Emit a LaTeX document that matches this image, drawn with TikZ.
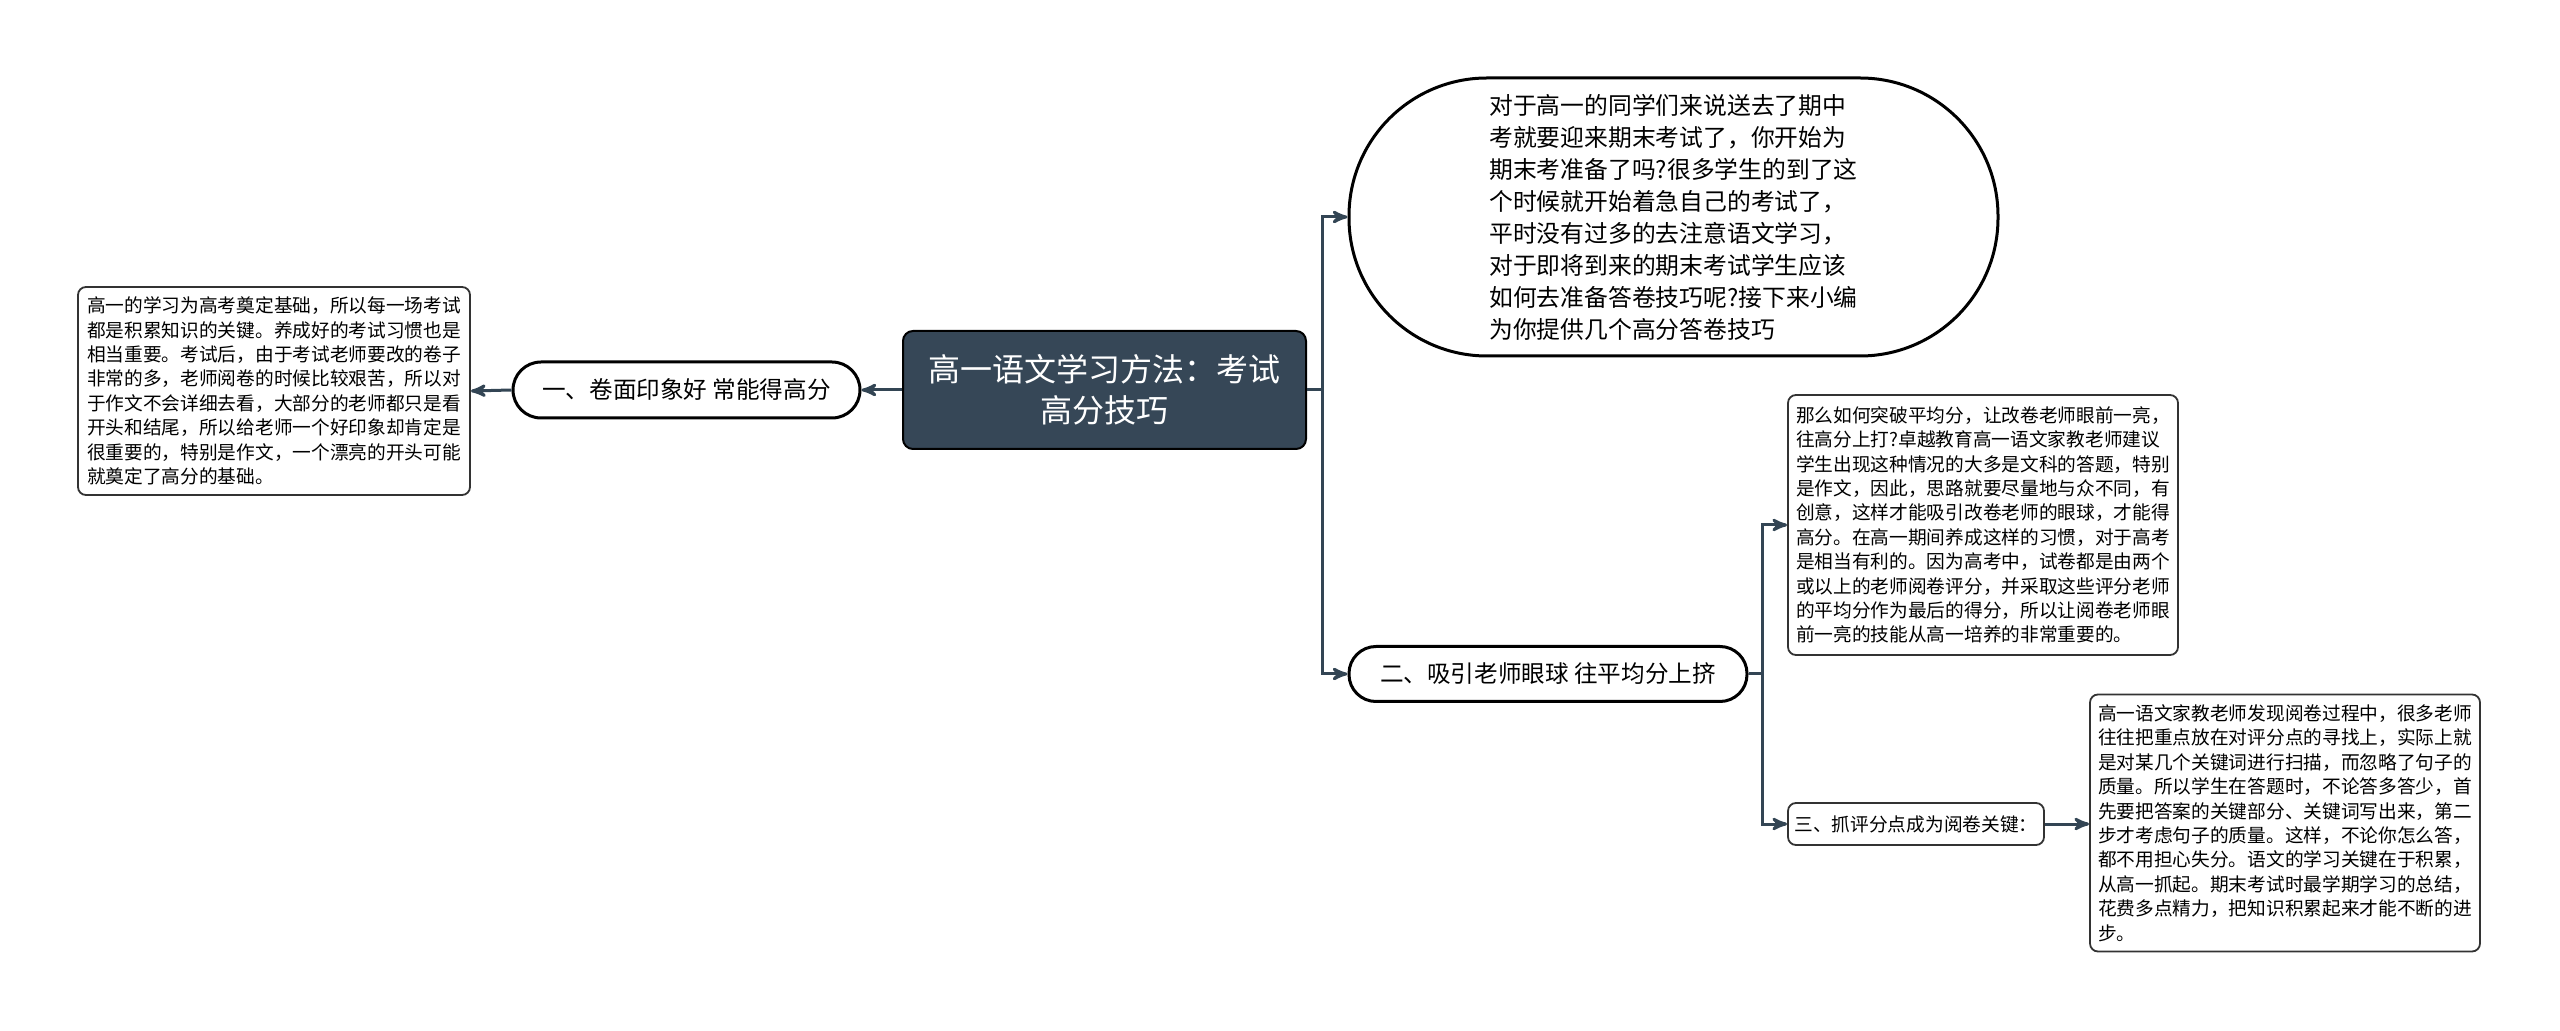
\documentclass[tikz,border=0pt]{standalone}
\usepackage{fontspec}
\setmainfont{Noto Sans CJK SC}
\usetikzlibrary{arrows,calc}
\definecolor{RootClr}{rgb}{0.21,0.28,0.34}
\definecolor{LinkClr}{rgb}{0.2,0.27,0.33}

\begin{document}
\begin{tikzpicture}[x=0.5pt,y=-0.5pt,
  link/.style={line width=1.5pt,color=LinkClr,-stealth'},
  pill/.style={draw=black,line width=1.5pt,fill=white,inner sep=0pt,
    font=\fontsize{11.8}{14}\selectfont},
  textbox/.style={draw=black!80,line width=0.9pt,fill=white,rounded corners=4pt,
    inner sep=0pt,align=left,font=\fontsize{9.35}{12.2}\selectfont}]
\useasboundingbox (0,0) rectangle (2560,1031);

% root
\node[draw=black,line width=1pt,fill=RootClr,text=white,rounded corners=5pt,
  minimum width=201.5pt,minimum height=59pt,align=center,inner sep=0pt,
  font=\fontsize{16}{20.4}\selectfont] (root) at (1104.5,390)
  {高一语文学习方法：考试\\高分技巧};

% left branch
\node[pill,rounded corners=14pt,minimum width=173.5pt,minimum height=28pt]
  (n1) at (686.5,390) {一、卷面印象好 常能得高分};
\node[textbox,minimum width=196pt,minimum height=104pt] (t1) at (274,391)
  {高一的学习为高考奠定基础，所以每一场考试\\
   都是积累知识的关键。养成好的考试习惯也是\\
   相当重要。考试后，由于考试老师要改的卷子\\
   非常的多，老师阅卷的时候比较艰苦，所以对\\
   于作文不会详细去看，大部分的老师都只是看\\
   开头和结尾，所以给老师一个好印象却肯定是\\
   很重要的，特别是作文，一个漂亮的开头可能\\
   就奠定了高分的基础。};

% right branch
\node[pill,rounded corners=69pt,minimum width=324.5pt,minimum height=139pt,
  align=left,font=\fontsize{11.9}{16}\selectfont] (oval) at (1673.5,217)
  {对于高一的同学们来说送去了期中\\
   考就要迎来期末考试了，你开始为\\
   期末考准备了吗?很多学生的到了这\\
   个时候就开始着急自己的考试了，\\
   平时没有过多的去注意语文学习，\\
   对于即将到来的期末考试学生应该\\
   如何去准备答卷技巧呢?接下来小编\\
   为你提供几个高分答卷技巧};
\node[pill,rounded corners=13.5pt,minimum width=199pt,minimum height=27.5pt]
  (n2) at (1548,674) {二、吸引老师眼球 往平均分上挤};
\node[textbox,minimum width=195pt,minimum height=130pt] (t2) at (1983,525)
  {那么如何突破平均分，让改卷老师眼前一亮，\\
   往高分上打?卓越教育高一语文家教老师建议\\
   学生出现这种情况的大多是文科的答题，特别\\
   是作文，因此，思路就要尽量地与众不同，有\\
   创意，这样才能吸引改卷老师的眼球，才能得\\
   高分。在高一期间养成这样的习惯，对于高考\\
   是相当有利的。因为高考中，试卷都是由两个\\
   或以上的老师阅卷评分，并采取这些评分老师\\
   的平均分作为最后的得分，所以让阅卷老师眼\\
   前一亮的技能从高一培养的非常重要的。};
\node[textbox,minimum width=128pt,minimum height=21pt,align=center] (n3) at (1916,824)
  {三、抓评分点成为阅卷关键：};
\node[textbox,minimum width=195pt,minimum height=128.5pt] (t3) at (2285,823)
  {高一语文家教老师发现阅卷过程中，很多老师\\
   往往把重点放在对评分点的寻找上，实际上就\\
   是对某几个关键词进行扫描，而忽略了句子的\\
   质量。所以学生在答题时，不论答多答少，首\\
   先要把答案的关键部分、关键词写出来，第二\\
   步才考虑句子的质量。这样，不论你怎么答，\\
   都不用担心失分。语文的学习关键在于积累，\\
   从高一抓起。期末考试时最学期学习的总结，\\
   花费多点精力，把知识积累起来才能不断的进\\
   步。};

% connectors
\draw[link] (root.west) -- (n1.east);
\draw[link] (n1.west) -- (t1.east);
\draw[link] (root.east) -- ++(15,0) |- (oval.west);
\draw[link] (root.east) -- ++(15,0) |- (n2.west);
\draw[link] (n2.east) -- ++(14,0) |- (t2.west);
\draw[link] (n2.east) -- ++(14,0) |- (n3.west);
\draw[link] (n3.east) -- (n3.east -| t3.west);

\end{tikzpicture}
\end{document}
